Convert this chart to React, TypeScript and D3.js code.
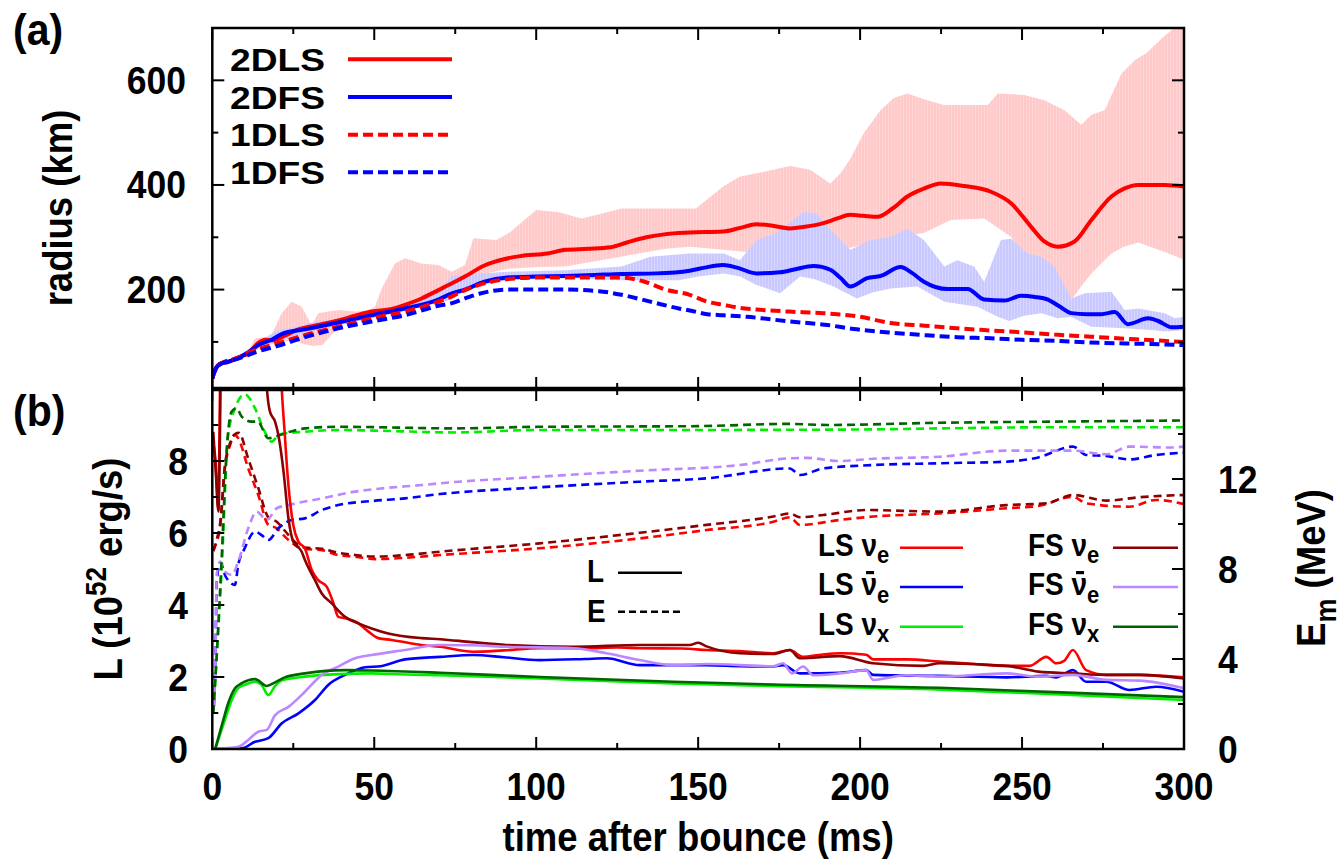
import React from "react";
import * as d3 from "d3";

type P = [number, number];

// ---------------- Panel (a): shock radius (km) vs time after bounce (ms)
const r2DLS: P[] = [[0,30],[0.3,37],[2.4,58],[4.9,62],[8,70],[11.1,78],[14.2,98],[16.3,104],[18.5,103],[22.4,112],[26.6,124],[30,129],[33.8,134],[38.9,141],[44.1,150],[49.2,158],[55.4,163],[59.5,171],[64.6,183],[69.8,199],[74,212],[78,225],[84,246],[90,258],[95,264],[103.5,269],[109,276],[116,278],[123,281],[128,290],[134,300],[140,306],[147.4,309],[157.7,311],[163,318],[168,325],[173,322],[178.4,317],[183,320],[188.7,327],[193,336],[197,343],[201,341],[205.3,339],[210,355],[214.6,378],[219.7,393],[224.9,403],[232.1,398],[240.4,387],[246.6,365],[252.8,320],[256.9,292],[261,282],[266.2,292],[271.4,333],[277.6,378],[281.5,393],[285.9,400],[294.1,400],[300,397]];
const r2DFS: P[] = [[0,30],[0.3,37],[2.4,58],[4.9,62],[8,70],[11.1,80],[14.2,94],[18.3,104],[21.4,115],[28.6,124],[38.9,137],[49.2,151],[59.5,164],[69.8,181],[74,193],[78,200],[84,215],[91,223],[100,225],[109,226],[118,228],[126.4,230],[137,231],[147.4,236],[152,242],[157.7,247],[162,242],[168,231],[175.3,233],[180,239],[185.6,245],[190.8,238],[194,222],[197,206],[202.2,222],[206.3,226],[212.5,243],[216,232],[219.7,215],[227,201],[233.2,201],[238.3,181],[244.5,179],[249.7,188],[254,186],[258,181],[261.5,168],[265.2,155],[270,153],[274.5,153],[278.6,157],[282.7,134],[288.9,145],[292,140],[296.2,128],[300,129]];
const r1DLS: P[] = [[0,30],[0.3,37],[2.4,58],[8,70],[13.2,85],[18.3,94],[28.6,113],[38.9,129],[49.2,145],[59.5,158],[69.8,177],[74,187],[78,199],[82.4,209],[91.2,220],[100,223],[108.8,223],[120,223],[126.4,223],[133.5,215],[140,200],[147.4,190],[152.8,177],[157.7,171],[163,165],[168,162],[178,158],[188.7,155],[200,148],[209.4,136],[220,131],[230,126],[240,122],[250.7,118],[260,114],[271.4,110],[285,105],[300,100]];
const r1DFS: P[] = [[0,30],[0.3,37],[2.4,57],[8,68],[14.2,82],[20,92],[28.6,109],[38.9,126],[49.2,139],[59.5,151],[69.8,169],[74,174],[78,183],[82.4,192],[91.2,200],[100,200],[108.8,200],[119.4,197],[126.4,190],[135.2,177],[144,164],[147.4,160],[152.8,153],[157.7,151],[165,148],[178.4,139],[189,133],[199,124],[209,118],[219.7,113],[230,109],[240.4,107],[250,104],[261,102],[271,99],[281.7,97],[290,96],[300,94]];

// angular spread (min / max shock radius) of the 2D models
const bandLSmax: P[] = [[0,30],[2,58],[8,72],[11,80],[13.2,107],[18,110],[21.4,155],[24.5,177],[27.6,167],[30.7,132],[32.7,155],[35.8,158],[38.9,161],[44,158],[48,160],[50.2,167],[52.3,202],[56.4,250],[59.5,260],[64.6,250],[69.8,247],[73.9,234],[78,247],[80.6,298],[87.7,295],[92,310],[100,352],[107,348],[114,336],[120,345],[126.4,355],[140,355],[149.3,355],[157.7,397],[162.9,416],[170,425],[178.4,436],[184.6,429],[190.8,403],[193.9,422],[197,450],[201.1,499],[206.3,543],[210.4,566],[214.6,575],[219.7,564],[225.9,553],[239.4,553],[242.5,575],[250.7,572],[256.9,562],[263.1,543],[268.3,515],[271.4,534],[275.5,543],[280.7,613],[284.9,639],[288.4,652],[293.6,683],[297,700],[300,705]];
const bandLSmin: P[] = [[0,30],[2,56],[8,68],[13,83],[18,95],[22,100],[25,104],[28,96],[31,92],[34,94],[36,108],[40,135],[45,145],[50,152],[60,165],[70,195],[73.6,206],[80,225],[91.2,240],[100,243],[108.8,244],[120,256],[131.7,269],[140,278],[147.4,282],[157.7,276],[165,272],[180,275],[197,280],[209.1,298],[219.7,308],[228,333],[238.3,336],[243.5,314],[246.6,301],[249.6,269],[256.9,244],[261,215],[265.2,180],[269,212],[271.4,231],[277.6,269],[281.4,282],[285.9,290],[294.1,272],[300,257]];
const bandFSmax: P[] = [[0,30],[2,58],[8,72],[14,100],[20,122],[25,128],[33,140],[40,144],[50,158],[60,170],[70,195],[73.6,225],[80,230],[91.2,234],[108.8,237],[126.4,244],[135.2,263],[147.4,269],[154.6,269],[158,269],[162.9,256],[168,295],[174.2,308],[182.5,349],[186.6,345],[191.8,308],[197,276],[203.2,295],[209.4,301],[214.6,317],[219.7,295],[226,244],[230,256],[235.2,244],[238.3,215],[243.5,295],[246.6,297],[251.8,269],[255.9,263],[260,244],[265.2,183],[269.3,193],[277.6,196],[281.7,161],[285.9,164],[294.1,155],[297.2,145],[300,148]];
const bandFSmin: P[] = [[0,30],[2,56],[8,68],[14,90],[20,100],[28.6,118],[40,133],[50,146],[60,160],[70,176],[73.6,180],[80,205],[91.2,218],[108.8,222],[126.4,218],[144,218],[150,225],[158,231],[163,225],[168,209],[175.3,193],[181.5,225],[186,220],[191.8,206],[199,183],[204,195],[209.4,202],[217.7,206],[226,177],[236.3,167],[242.5,148],[246,140],[250.7,150],[256,155],[261,145],[265,148],[271.4,129],[281.7,126],[290,123],[294.1,120],[300,123]];

// ---------------- Panel (b): luminosity L (1e52 erg/s) and mean energy E_m (MeV)
const L_LS_nue: P[] = [[0.3,8.5],[1,8.0],[1.8,6.7],[2.5,11],[3,15],[10,20],[20,15],[21,11],[22.4,8.72],[23.5,7.33],[25,6.22],[26.6,5.76],[28.6,5.57],[30.7,4.97],[32.7,4.69],[35.3,4.51],[37.4,4.05],[38.9,3.67],[41,3.63],[45.1,3.49],[48.2,3.26],[51.2,3.08],[55.4,3.03],[64.6,2.89],[70.3,2.84],[80.5,2.70],[90,2.74],[101,2.80],[115,2.80],[125,2.82],[132,2.80],[145,2.79],[152.6,2.75],[162.9,2.72],[173.2,2.66],[178.3,2.75],[182.4,2.56],[188,2.62],[193.7,2.66],[201.9,2.62],[204,2.49],[214.3,2.49],[224.6,2.43],[235,2.36],[245.2,2.31],[252.4,2.31],[257.5,2.56],[260.6,2.38],[263,2.45],[265.7,2.75],[269.8,2.19],[276,2.06],[286.3,2.06],[300,1.99]];
const L_LS_anue: P[] = [[0.5,0],[9.1,0.02],[13.2,0.2],[17.3,0.3],[21.4,0.71],[26.6,0.99],[31.7,1.36],[35.8,1.78],[41,2.06],[47.2,2.27],[52,2.3],[59.5,2.49],[70.3,2.56],[80.5,2.61],[90,2.55],[101,2.47],[115,2.50],[121.7,2.52],[132,2.33],[142,2.33],[152.6,2.33],[162.9,2.30],[173.2,2.29],[176.2,2.33],[181.4,2.10],[193.7,2.12],[201.9,2.19],[204,2.06],[224.6,2.03],[245.2,1.99],[257.5,2.03],[260.6,1.99],[265.7,2.19],[269.8,1.87],[276,1.87],[283.2,1.64],[291.4,1.73],[300,1.59]];
const L_LS_nux: P[] = [[0.9,0],[3.9,0.81],[6,1.36],[8,1.69],[10.1,1.78],[13.2,1.87],[15.2,1.78],[17.3,1.5],[19.4,1.75],[21.4,1.9],[28.6,2.01],[38.9,2.08],[49.2,2.10],[60,2.07],[70.3,2.05],[101,1.96],[142.3,1.82],[173.2,1.75],[224.6,1.65],[260,1.52],[300,1.36]];
const L_FS_nue: P[] = [[0.3,8.81],[1.2,7.5],[1.9,6.6],[2.4,9],[2.8,12],[8,20],[16,12],[16.8,10.1],[17.8,9.37],[19.4,9.09],[20.4,8.72],[22,7.7],[23.5,6.41],[25,5.76],[27.6,5.48],[28.6,5.25],[31.7,4.69],[33.8,4.32],[36.8,4.05],[41,3.67],[45.1,3.49],[49.2,3.35],[54.3,3.21],[64.6,3.08],[70.3,3.05],[80,2.97],[90.8,2.89],[111.4,2.84],[132,2.89],[147.4,2.89],[150,2.95],[152.6,2.85],[162.9,2.66],[173.2,2.64],[178.3,2.75],[181.4,2.52],[193.7,2.58],[204,2.38],[219.5,2.31],[224.6,2.38],[245.2,2.31],[255,2.15],[265.7,2.10],[276,2.06],[286.3,2.06],[300,1.96]];
const L_FS_anue: P[] = [[0.5,0],[8,0.06],[11.1,0.25],[14.2,0.48],[16.8,0.53],[19.4,0.94],[23.5,1.17],[28.6,1.59],[33.8,2.06],[38.9,2.29],[44.1,2.52],[49.2,2.61],[59.5,2.75],[69.8,2.89],[80,2.88],[90.8,2.84],[111.4,2.80],[121.7,2.66],[132,2.47],[142.3,2.33],[152.6,2.36],[173.2,2.30],[176.2,2.38],[179,2.10],[182.4,2.29],[185.5,2.05],[193.7,2.10],[201.9,2.19],[204,1.92],[214.3,2.05],[224.6,2.01],[245.2,2.10],[255,2.01],[265.7,2.06],[276,1.92],[286.3,1.90],[300,1.69]];
const L_FS_nux: P[] = [[0.9,0],[3.4,0.81],[4.9,1.27],[7,1.69],[9,1.82],[13.2,1.94],[16.8,1.75],[19.4,1.85],[22.4,1.99],[28.6,2.10],[35,2.17],[41,2.19],[49.2,2.18],[70.3,2.12],[101,2.0],[142.3,1.87],[173.2,1.79],[224.6,1.70],[260,1.58],[300,1.44]];

const E_LS_nue: P[] = [[0.3,8.8],[1.35,9.21],[2.4,9.81],[3.9,12.47],[5.5,13.51],[7,13.96],[8,13.81],[11.1,12.47],[14.2,11.29],[17.3,9.96],[19.9,9.81],[22.4,9.44],[25.5,9.07],[28.6,8.89],[33.8,8.84],[38.9,8.62],[44.1,8.55],[50.3,8.44],[59.6,8.5],[70.3,8.62],[101,8.92],[132,9.36],[152.6,9.73],[173.2,10.1],[178.3,10.3],[181.4,9.96],[193.7,10.18],[204,10.33],[224.6,10.47],[245.2,10.7],[255,10.8],[265.7,11.21],[269.8,10.92],[283.2,10.77],[291.4,11.07],[300,10.89]];
const E_LS_anue: P[] = [[0.5,1.9],[0.9,3.6],[1.4,7.5],[2.5,8.3],[4,7.7],[4.9,7.5],[7,7.29],[8,8.18],[10,8.92],[13.2,9.66],[15.2,9.51],[17.3,9.29],[20.4,9.81],[24.5,10.18],[28.6,10.25],[33.8,10.62],[38.9,10.84],[49.2,11.02],[59.5,11.14],[70.3,11.33],[101,11.63],[132,11.88],[152.6,12.03],[178.3,12.47],[181.4,12.18],[188.6,12.47],[204,12.62],[224.6,12.7],[245.2,12.77],[255,12.96],[265.7,13.44],[269.8,13.07],[276,13.02],[283.2,12.87],[291.4,13.07],[300,13.17]];
const E_LS_nux: P[] = [[0.3,1.6],[1.5,4.5],[2.9,8],[4.9,13.96],[7,15.14],[10,15.76],[13.2,15.14],[15.7,14.25],[18.3,13.66],[20.4,13.96],[22.4,14.03],[28.6,14.1],[38.9,14.18],[50,14.15],[74.9,14.07],[101,14.18],[150,14.18],[200,14.2],[224.6,14.25],[260,14.3],[300,14.3]];
const E_FS_nue: P[] = [[0.3,8.8],[1.35,9.3],[2.4,10],[3.9,12.6],[5.5,13.6],[7,14.0],[8.2,14.05],[11.1,12.9],[14.2,11.6],[17.3,10.3],[19.9,10.1],[22.4,9.7],[25.5,9.2],[28.6,8.95],[33.8,8.9],[38.9,8.72],[44.1,8.62],[50.3,8.55],[59.6,8.62],[70.3,8.77],[101,9.14],[132,9.61],[152.6,9.96],[173.2,10.33],[178.3,10.47],[181.4,10.3],[188.6,10.4],[201.9,10.62],[224.6,10.55],[245.2,10.84],[257.5,10.92],[265.7,11.29],[276,11.04],[286.3,11.19],[300,11.29]];
const E_FS_anue: P[] = [[0.5,1.9],[0.9,3.6],[1.4,7.8],[2.4,8.33],[3.9,7.88],[6,7.73],[8,8.33],[11.1,9.81],[13.7,10.55],[16.8,10.18],[19.9,10.7],[23.5,10.84],[33.8,11.14],[44.1,11.44],[54.3,11.61],[64.6,11.73],[70.3,11.81],[101,12.1],[132,12.37],[162.9,12.62],[178.3,12.92],[183.4,12.94],[193.7,12.8],[204,12.9],[224.6,12.99],[245.2,13.26],[265.7,13.26],[276,13.1],[283.2,13.44],[296,13.4],[300,13.44]];
const E_FS_nux: P[] = [[0.3,1.6],[1.5,4.5],[2.9,8.5],[4.4,13.2],[6,15.0],[7.5,15.14],[9.1,14.77],[12.1,14.55],[14,14.55],[17.3,13.81],[19.4,13.88],[22.4,14.03],[28.6,14.25],[38.9,14.32],[74.9,14.25],[101,14.32],[150,14.35],[178,14.45],[190,14.4],[224.6,14.5],[260,14.55],[300,14.6]];

// ---------------- ticks / labels
const xTickValues = d3.range(0, 301, 25);
const xTickLabels = [0, 50, 100, 150, 200, 250, 300];
const radiusTicks = [100, 200, 300, 400, 500, 600, 700];
const radiusLabels = [200, 400, 600];
const lumTicks = d3.range(0, 11, 1);
const lumLabels = [0, 2, 4, 6, 8];
const energyTicks = d3.range(0, 17, 2);
const energyLabels = [0, 4, 8, 12];
const legendA = ["2DLS", "2DFS", "1DLS", "1DFS"];

// ---------------- layout
const FONT = "'Liberation Sans', Arial, Helvetica, sans-serif";
const X0 = 212.3, X1 = 1184;
const A_TOP = 28, A_BOT = 389;
const B_TOP = 389, B_BOT = 749;
const SY = 1.1; // glyphs in the reference are slightly taller than wide

const x = d3.scaleLinear().domain([0, 300]).range([X0, X1]);
const yA = d3.scaleLinear().domain([10, 700]).range([A_BOT, A_TOP]);
const yL = d3.scaleLinear().domain([0, 10]).range([B_BOT, B_TOP]);
const yE = d3.scaleLinear().domain([0, 16]).range([B_BOT, B_TOP]);

const RED = "#ff0000", BLUE = "#0000ff", GREEN = "#00ee00";
const DRED = "#8b0000", LAV = "#bb88ff", DGREEN = "#006400";

const mkLine = (ys: d3.ScaleLinear<number, number>) =>
  d3.line<P>().x(d => x(d[0])).y(d => ys(d[1])).curve(d3.curveMonotoneX);

const bandPath = (up: P[], lo: P[]) => {
  const pts: P[] = [
    ...up.map(d => [x(d[0]), yA(d[1])] as P),
    ...lo.slice().reverse().map(d => [x(d[0]), yA(d[1])] as P),
  ];
  return (d3.line<P>().curve(d3.curveLinear)(pts) || "") + "Z";
};

const seriesA = [
  { data: r2DLS, color: RED, dash: undefined as string | undefined },
  { data: r2DFS, color: BLUE, dash: undefined as string | undefined },
  { data: r1DLS, color: RED, dash: "10,5" },
  { data: r1DFS, color: BLUE, dash: "10,5" },
];

const seriesB = [
  { data: E_LS_nue, ax: "E", color: RED, dash: "8,5" },
  { data: E_LS_anue, ax: "E", color: BLUE, dash: "8,5" },
  { data: E_LS_nux, ax: "E", color: GREEN, dash: "8,5" },
  { data: E_FS_nue, ax: "E", color: DRED, dash: "8,5" },
  { data: E_FS_anue, ax: "E", color: LAV, dash: "8,5" },
  { data: E_FS_nux, ax: "E", color: DGREEN, dash: "8,5" },
  { data: L_LS_nue, ax: "L", color: RED, dash: undefined as string | undefined },
  { data: L_LS_anue, ax: "L", color: BLUE, dash: undefined as string | undefined },
  { data: L_LS_nux, ax: "L", color: GREEN, dash: undefined as string | undefined },
  { data: L_FS_nue, ax: "L", color: DRED, dash: undefined as string | undefined },
  { data: L_FS_anue, ax: "L", color: LAV, dash: undefined as string | undefined },
  { data: L_FS_nux, ax: "L", color: DGREEN, dash: undefined as string | undefined },
];

const legendB = [
  { pre: "LS", sub: "e", bar: false, color: RED, col: 0 },
  { pre: "LS", sub: "e", bar: true, color: BLUE, col: 0 },
  { pre: "LS", sub: "x", bar: false, color: GREEN, col: 0 },
  { pre: "FS", sub: "e", bar: false, color: DRED, col: 1 },
  { pre: "FS", sub: "e", bar: true, color: LAV, col: 1 },
  { pre: "FS", sub: "x", bar: false, color: DGREEN, col: 1 },
];

function T(props: { x: number; y: number; size: number; anchor?: string; rot?: boolean; sy?: number; len?: number; children: React.ReactNode }) {
  const { x: tx, y: ty, size, anchor, rot, children, len } = props;
  const sy = props.sy ?? SY;
  const tr = `translate(${tx},${ty})${rot ? " rotate(-90)" : ""}${sy !== 1 ? ` scale(1,${sy})` : ""}`;
  return (
    <text transform={tr} textAnchor={anchor || "start"} fontSize={size}
      textLength={len} lengthAdjust={len ? "spacingAndGlyphs" : undefined}>{children}</text>
  );
}

export default function App() {
  const lineA = mkLine(yA);
  const lineL = mkLine(yL);
  const lineE = mkLine(yE);
  const tickFs = 35.5;
  const titleFs = 36.5;
  const legRowsA = [59.3, 97, 134.7, 172.3];
  const legRowsB = [547.7, 587, 626.7];
  const legBcols = [
    { tx: 818, l0: 900, l1: 963 },
    { tx: 1028, l0: 1113, l1: 1178 },
  ];
  const lfs = 28;
  return (
    <svg width={1343} height={860} style={{ display: "block", position: "absolute", left: 0, top: 0 }}
      fontFamily={FONT} fontWeight="bold">
      <defs>
        <clipPath id="clipA"><rect x={X0} y={A_TOP} width={X1 - X0} height={A_BOT - A_TOP} /></clipPath>
        <clipPath id="clipB"><rect x={X0} y={B_TOP} width={X1 - X0} height={B_BOT - B_TOP} /></clipPath>
        <pattern id="hatchR" patternUnits="userSpaceOnUse" width={3} height={10}>
          <rect x={0} y={0} width={3} height={10} fill="#ffc9c9" />
          <rect x={0} y={0} width={0.8} height={10} fill="#ffdada" />
        </pattern>
        <pattern id="hatchB" patternUnits="userSpaceOnUse" width={3} height={10}>
          <rect x={0} y={0} width={3} height={10} fill="#c9c9ff" />
          <rect x={0} y={0} width={0.8} height={10} fill="#dadaff" />
        </pattern>
      </defs>
      <rect x={0} y={0} width={1343} height={860} fill="#fff" />

      {/* ---------- panel (a) ---------- */}
      <g clipPath="url(#clipA)">
        <path d={bandPath(bandLSmax, bandLSmin)} fill="url(#hatchR)" stroke="none" />
        <path d={bandPath(bandFSmax, bandFSmin)} fill="url(#hatchB)" stroke="none" />
        {seriesA.map((s, i) => (
          <path key={i} d={lineA(s.data) || ""} fill="none" stroke={s.color} strokeWidth={4}
            strokeDasharray={s.dash} strokeLinejoin="round" />
        ))}
      </g>
      {/* legend (a) */}
      {legendA.map((name, i) => (
        <g key={name}>
          <T x={325} y={legRowsA[i] + 11.5} anchor="end" size={32} sy={1} len={95}>{name}</T>
          <line x1={348} x2={452} y1={legRowsA[i]} y2={legRowsA[i]} stroke={seriesA[i].color}
            strokeWidth={4} strokeDasharray={seriesA[i].dash} />
        </g>
      ))}
      {/* axes (a) */}
      {xTickValues.map(t => {
        const len = t % 50 === 0 ? 12 : 6;
        return (
          <g key={"xa" + t}>
            <line x1={x(t)} x2={x(t)} y1={A_TOP} y2={A_TOP + len} stroke="#000" strokeWidth={2} />
            <line x1={x(t)} x2={x(t)} y1={A_BOT} y2={A_BOT - len} stroke="#000" strokeWidth={2} />
          </g>
        );
      })}
      {radiusTicks.map(v => {
        const len = radiusLabels.includes(v) ? 12 : 6;
        return (
          <g key={"ya" + v}>
            <line x1={X0} x2={X0 + len} y1={yA(v)} y2={yA(v)} stroke="#000" strokeWidth={2} />
            <line x1={X1} x2={X1 - len} y1={yA(v)} y2={yA(v)} stroke="#000" strokeWidth={2} />
          </g>
        );
      })}
      {radiusLabels.map(v => (
        <T key={"yal" + v} x={186} y={yA(v) + 13.5} anchor="end" size={tickFs}>{v}</T>
      ))}
      <rect x={X0} y={A_TOP} width={X1 - X0} height={A_BOT - A_TOP} fill="none" stroke="#000" strokeWidth={2.5} />
      <T x={72} y={208} rot anchor="middle" size={titleFs}>radius (km)</T>
      <T x={13} y={45} size={41}>(a)</T>

      {/* ---------- panel (b) ---------- */}
      <g clipPath="url(#clipB)">
        {seriesB.map((s, i) => (
          <path key={i} d={(s.ax === "L" ? lineL : lineE)(s.data) || ""} fill="none" stroke={s.color}
            strokeWidth={2.6} strokeDasharray={s.dash} strokeLinejoin="round" />
        ))}
      </g>
      {/* legend L/E */}
      <T x={587} y={582} size={lfs}>L</T>
      <line x1={618} x2={682} y1={572.7} y2={572.7} stroke="#000" strokeWidth={2.4} />
      <T x={587} y={622} size={lfs}>E</T>
      <line x1={618} x2={682} y1={611.7} y2={611.7} stroke="#000" strokeWidth={2.4} strokeDasharray="7,4" />
      {/* legend neutrino species */}
      {legendB.map((e, i) => {
        const c = legBcols[e.col];
        const row = legRowsB[i % 3];
        const base = row + 8;
        const nuX = c.tx + lfs * 1.556;
        return (
          <g key={"lb" + i}>
            <T x={c.tx} y={base} size={lfs}>
              {e.pre + " ν"}
              <tspan fontSize={22} dy={7}>{e.sub}</tspan>
            </T>
            {e.bar && <rect x={nuX + 4.5} y={base - 24} width={8} height={3.2} fill="#000" />}
            <line x1={c.l0} x2={c.l1} y1={row} y2={row} stroke={e.color} strokeWidth={2.6} />
          </g>
        );
      })}
      {/* axes (b) */}
      {xTickValues.map(t => {
        const len = t % 50 === 0 ? 12 : 6;
        return (
          <g key={"xb" + t}>
            <line x1={x(t)} x2={x(t)} y1={B_TOP} y2={B_TOP + len} stroke="#000" strokeWidth={2} />
            <line x1={x(t)} x2={x(t)} y1={B_BOT} y2={B_BOT - len} stroke="#000" strokeWidth={2} />
          </g>
        );
      })}
      {xTickLabels.map(t => (
        <T key={"xl" + t} x={x(t)} y={800} anchor="middle" size={tickFs}>{t}</T>
      ))}
      {lumTicks.map(v => {
        const len = lumLabels.includes(v) ? 12 : 6;
        return <line key={"yl" + v} x1={X0} x2={X0 + len} y1={yL(v)} y2={yL(v)} stroke="#000" strokeWidth={2} />;
      })}
      {lumLabels.map(v => (
        <T key={"yll" + v} x={188} y={yL(v) + 14} anchor="end" size={tickFs}>{v}</T>
      ))}
      {energyTicks.map(v => {
        const len = energyLabels.includes(v) ? 12 : 6;
        return <line key={"ye" + v} x1={X1} x2={X1 - len} y1={yE(v)} y2={yE(v)} stroke="#000" strokeWidth={2} />;
      })}
      {energyLabels.map(v => (
        <T key={"yel" + v} x={1218} y={yE(v) + 14} size={tickFs}>{v}</T>
      ))}
      <rect x={X0} y={B_TOP} width={X1 - X0} height={B_BOT - B_TOP} fill="none" stroke="#000" strokeWidth={2.5} />
      <line x1={X0 - 1} x2={X1 + 1} y1={B_TOP} y2={B_TOP} stroke="#000" strokeWidth={4.5} />

      <T x={122} y={569} rot anchor="middle" size={titleFs}>
        L (10<tspan fontSize={26} dy={-15}>52</tspan><tspan dy={15}> erg/s)</tspan>
      </T>
      <T x={1325} y={568} rot anchor="middle" size={titleFs}>
        E<tspan fontSize={27} dy={10}>m</tspan><tspan dy={-10}> (MeV)</tspan>
      </T>
      <T x={(X0 + X1) / 2} y={851} anchor="middle" size={titleFs}>time after bounce (ms)</T>
      <T x={13} y={426} size={41}>(b)</T>
    </svg>
  );
}
